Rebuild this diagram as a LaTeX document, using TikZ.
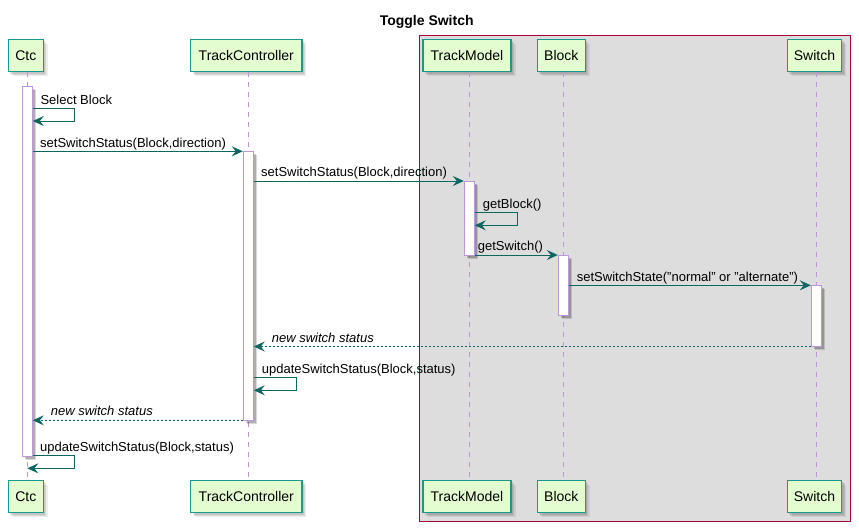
\documentclass[tikz,border=0pt]{standalone}
\usepackage{fontspec}
\setmainfont{Liberation Sans}
\usetikzlibrary{arrows.meta,shadows}
\definecolor{partfill}{HTML}{E3FDD0}
\definecolor{partline}{HTML}{1A9A8C}
\definecolor{msgline}{HTML}{0E6661}
\definecolor{lifeclr}{HTML}{BE96DC}
\definecolor{groupfill}{HTML}{DDDDDD}
\definecolor{groupline}{HTML}{A80036}
\tikzset{
  softshadow/.style={
    general shadow={shadow xshift=2pt, shadow yshift=-2pt, fill=black, opacity=0.09},
    general shadow={shadow xshift=3pt, shadow yshift=-3pt, fill=black, opacity=0.09},
    general shadow={shadow xshift=4.5pt, shadow yshift=-4.5pt, fill=black, opacity=0.07}},
  participant/.style={draw=partline, fill=partfill, line width=1.4pt,
    minimum height=32.4pt, inner sep=0pt, font=\fontsize{14}{16}\selectfont,
    softshadow},
  lifeline/.style={draw=lifeclr, line width=0.8pt, dash pattern=on 5pt off 5pt},
  actbar/.style={draw=lifeclr, fill=white, line width=1pt, minimum width=10pt,
    inner sep=0pt,
    general shadow={shadow xshift=2.5pt, shadow yshift=-2.5pt, fill=black, opacity=0.2},
    general shadow={shadow xshift=3.5pt, shadow yshift=-3.5pt, fill=black, opacity=0.15}},
  msg/.style={draw=msgline, line width=1pt,
    -{Stealth[length=11pt, width=10pt, inset=4pt]}},
  reply/.style={msg, dash pattern=on 2pt off 2pt},
  msglabel/.style={anchor=base west, inner sep=0pt, font=\fontsize{13}{15}\selectfont},
  replylabel/.style={msglabel, font=\fontsize{13}{15}\selectfont\itshape},
}
\begin{document}
\begin{tikzpicture}[x=1pt, y=-1pt]
\useasboundingbox (0,0) rectangle (859,531);

% title
\node[anchor=base, inner sep=0pt, font=\fontsize{14}{16}\selectfont\bfseries]
  (title) at (426.7,25.7) {Toggle Switch};

% grey box around the model side
\draw[fill=groupfill, draw=groupline, line width=1pt] (419.3,35.3) rectangle (850,521.3);

% participants, top and bottom
\node[participant, minimum width=35pt]   (ctcTop) at (25.8,55.5)  {Ctc};
\node[participant, minimum width=111.3pt] (tcTop) at (246.3,55.5) {TrackController};
\node[participant, minimum width=88pt]   (tmTop)  at (467,55.5)   {TrackModel};
\node[participant, minimum width=48pt]   (blTop)  at (561.3,55.5) {Block};
\node[participant, minimum width=54.4pt] (swTop)  at (814.5,55.5) {Switch};

\node[participant, minimum width=35pt]   (ctcBot) at (25.8,496.4)  {Ctc};
\node[participant, minimum width=111.3pt] (tcBot) at (246.3,496.4) {TrackController};
\node[participant, minimum width=88pt]   (tmBot)  at (467,496.4)   {TrackModel};
\node[participant, minimum width=48pt]   (blBot)  at (561.3,496.4) {Block};
\node[participant, minimum width=54.4pt] (swBot)  at (814.5,496.4) {Switch};

% lifelines
\draw[lifeline] ([xshift=1.5pt]ctcTop.south) -- ([xshift=1.5pt]ctcBot.north);
\draw[lifeline] ([xshift=2pt]tcTop.south) -- ([xshift=2pt]tcBot.north);
\draw[lifeline] ([xshift=2.3pt]tmTop.south) -- ([xshift=2.3pt]tmBot.north);
\draw[lifeline] ([xshift=2pt]blTop.south) -- ([xshift=2pt]blBot.north);
\draw[lifeline] ([xshift=1.8pt]swTop.south) -- ([xshift=1.8pt]swBot.north);

% activation bars
\node[actbar, minimum height=370pt]   (actCtc) at (27.3,271.7) {};
\node[actbar, minimum height=269pt]   (actTc)  at (248.3,285.8) {};
\node[actbar, minimum height=74pt]    (actTm)  at (469.3,218) {};
\node[actbar, minimum height=60.7pt]  (actBl)  at (563.3,285.35) {};
\node[actbar, minimum height=61.2pt]  (actSw)  at (816.3,315.9) {};

% message heights
\coordinate (m1)  at (0,108.7);
\coordinate (m1b) at (0,121);
\coordinate (m2)  at (0,151.3);
\coordinate (m3)  at (0,181);
\coordinate (m4)  at (0,212.5);
\coordinate (m4b) at (0,225.3);
\coordinate (m5)  at (0,255);
\coordinate (m6)  at (0,285.3);
\coordinate (m7)  at (0,346.5);
\coordinate (m8)  at (0,377.7);
\coordinate (m8b) at (0,390.3);
\coordinate (m9)  at (0,420.3);
\coordinate (m10) at (0,455.7);
\coordinate (m10b) at (0,468.3);
\coordinate (ctcLife) at (27.3,0);

% messages
\draw[msg] (actCtc.east |- m1) -- ++(42,0) |- (actCtc.east |- m1b);
\node[msglabel] (l1) at (40.3,104) {Select Block};

\draw[msg] (actCtc.east |- m2) -- (actTc.west |- m2);
\node[msglabel] (l2) at (40,147) {setSwitchStatus(Block,direction)};

\draw[msg] (actTc.east |- m3) -- (actTm.west |- m3);
\node[msglabel] (l3) at (261,176.7) {setSwitchStatus(Block,direction)};

\draw[msg] (actTm.east |- m4) -- ++(42.4,0) |- (actTm.east |- m4b);
\node[msglabel] (l4) at (482.7,208) {getBlock()};

\draw[msg] (actTm.east |- m5) -- (actBl.west |- m5);
\node[msglabel] (l5) at (477.7,250.7) {getSwitch()};

\draw[msg] (actBl.east |- m6) -- (actSw.west |- m6);
\node[msglabel] (l6) at (576.7,281) {setSwitchState("normal" or "alternate")};

\draw[reply] (actSw.west |- m7) -- (actTc.east |- m7);
\node[replylabel] (l7) at (271.7,342.2) {new switch status};

\draw[msg] (actTc.east |- m8) -- ++(42.4,0) |- (actTc.east |- m8b);
\node[msglabel] (l8) at (261.7,373.3) {updateSwitchStatus(Block,status)};

\draw[reply] (actTc.west |- m9) -- (actCtc.east |- m9);
\node[replylabel] (l9) at (50.7,415.8) {new switch status};

\draw[msg] (actCtc.east |- m10) -- ++(42,0) |- (ctcLife |- m10b);
\node[msglabel] (l10) at (40,451.2) {updateSwitchStatus(Block,status)};
\end{tikzpicture}
\end{document}
